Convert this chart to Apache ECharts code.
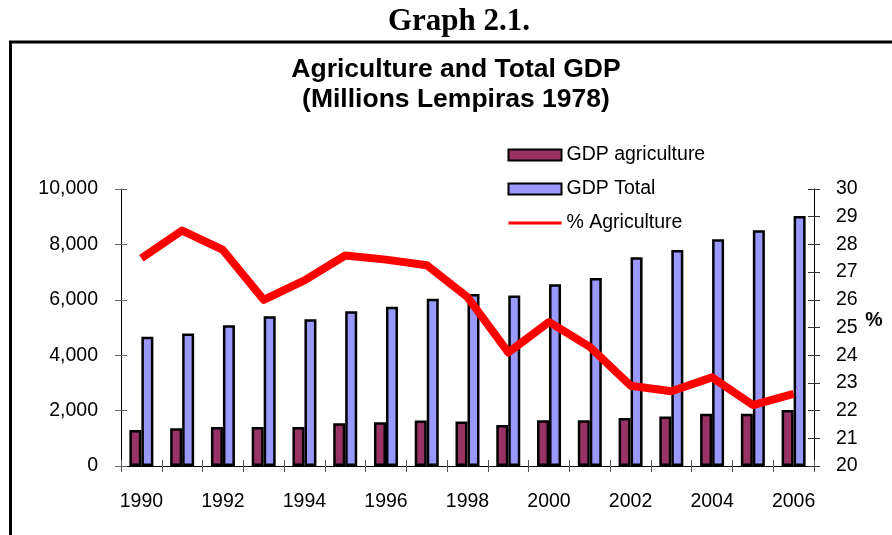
<!DOCTYPE html>
<html>
<head>
<meta charset="utf-8">
<title>Agriculture and Total GDP</title>
<script src="https://cdn.jsdelivr.net/npm/echarts@6/dist/echarts.min.js"></script>
<style>
  html, body { margin: 0; padding: 0; background: #fff; }
  #chart { width: 892px; height: 535px; }
</style>
</head>
<body>
<div id="chart"></div>
<script>
// Honduras GDP, millions of 1978 lempiras
const years = ['1990', '1991', '1992', '1993', '1994', '1995', '1996', '1997', '1998',
               '1999', '2000', '2001', '2002', '2003', '2004', '2005', '2006'];
const gdpAgriculture = [1300, 1360, 1410, 1410, 1410, 1540, 1580, 1640, 1610,
                        1480, 1650, 1650, 1735, 1785, 1890, 1890, 2025];
const gdpTotal = [4670, 4780, 5085, 5410, 5300, 5590, 5745, 6035, 6205,
                  6155, 6565, 6785, 7540, 7795, 8190, 8515, 9025];
const pctAgriculture = [27.5, 28.5, 27.8, 26.0, 26.7, 27.6, 27.45, 27.25, 26.1,
                        24.1, 25.2, 24.3, 22.9, 22.7, 23.2, 22.2, 22.6];

const FONT = '"Liberation Sans", Arial, sans-serif';
const chart = echarts.init(document.getElementById('chart'), null, { renderer: 'canvas' });

const labelStyle = { color: '#000', fontSize: 19.5, fontFamily: FONT };

chart.setOption({
  animation: false,
  backgroundColor: '#fff',
  grid: { left: 121, right: 78, top: 189, bottom: 69, outerBoundsMode: 'none', containLabel: false },
  graphic: [
    { type: 'rect', shape: { x: 10.5, y: 42, width: 900, height: 520 },
      style: { fill: null, stroke: '#000', lineWidth: 3 }, silent: true },
    { type: 'text', x: 459, y: 22,
      style: { text: 'Graph 2.1.', font: 'bold 31px "Liberation Serif", "Times New Roman", serif',
               fill: '#000', align: 'center', verticalAlign: 'middle' } },
    { type: 'text', x: 456, y: 70,
      style: { text: 'Agriculture and Total GDP', font: 'bold 26.5px ' + FONT,
               fill: '#000', align: 'center', verticalAlign: 'middle' } },
    { type: 'text', x: 456, y: 100,
      style: { text: '(Millions Lempiras 1978)', font: 'bold 26.5px ' + FONT,
               fill: '#000', align: 'center', verticalAlign: 'middle' } },
    { type: 'text', x: 874, y: 321,
      style: { text: '%', font: 'bold 19.5px ' + FONT,
               fill: '#000', align: 'center', verticalAlign: 'middle' } }
  ],
  legend: {
    orient: 'vertical',
    left: 507,
    top: 145,
    padding: 0,
    itemWidth: 53,
    itemHeight: 11,
    itemGap: 14,
    textStyle: { color: '#000', fontSize: 19.5, fontFamily: FONT, lineHeight: 19, padding: [0, 0, 0, 0] },
    data: [
      { name: 'GDP agriculture', icon: 'rect', itemStyle: { borderColor: '#000', borderWidth: 2 } },
      { name: 'GDP Total', icon: 'rect', itemStyle: { borderColor: '#000', borderWidth: 2 } },
      { name: '% Agriculture', lineStyle: { width: 3 }, itemStyle: { opacity: 0 } }
    ]
  },
  xAxis: [
    {
      type: 'category', data: years, position: 'bottom', boundaryGap: true,
      axisLine: { lineStyle: { color: '#000', width: 1 } },
      axisTick: { show: true, interval: 0, length: 6, inside: false, lineStyle: { color: '#555' } },
      axisLabel: Object.assign({ interval: 1, margin: 26 }, labelStyle),
      splitLine: { show: false }
    },
    {
      type: 'category', data: years, position: 'bottom', boundaryGap: true,
      axisLine: { show: false },
      axisTick: { show: true, interval: 0, length: 6, inside: true, lineStyle: { color: '#555' } },
      axisLabel: { show: false },
      splitLine: { show: false }
    }
  ],
  yAxis: [
    {
      type: 'value', position: 'left', min: 0, max: 10000, interval: 2000,
      axisLine: { show: true, lineStyle: { color: '#000', width: 1 } },
      axisTick: { show: true, length: 6, inside: false, lineStyle: { color: '#666' } },
      axisLabel: Object.assign({
        margin: 23,
        formatter: v => v.toLocaleString('en-US')
      }, labelStyle),
      splitLine: { show: false }
    },
    {
      type: 'value', position: 'right', min: 20, max: 30, interval: 1,
      axisLine: { show: true, lineStyle: { color: '#000', width: 1 } },
      axisTick: { show: true, length: 6, inside: false, lineStyle: { color: '#333' } },
      axisLabel: Object.assign({ margin: 22 }, labelStyle),
      splitLine: { show: false }
    },
    {
      type: 'value', position: 'left', min: 0, max: 10000, interval: 2000,
      axisLine: { show: false },
      axisTick: { show: true, length: 6, inside: true, lineStyle: { color: '#666' } },
      axisLabel: { show: false },
      splitLine: { show: false }
    },
    {
      type: 'value', position: 'right', min: 20, max: 30, interval: 1,
      axisLine: { show: false },
      axisTick: { show: true, length: 6, inside: true, lineStyle: { color: '#333' } },
      axisLabel: { show: false },
      splitLine: { show: false }
    }
  ],
  series: [
    {
      name: 'GDP agriculture', type: 'bar', xAxisIndex: 0, yAxisIndex: 0,
      data: gdpAgriculture, barWidth: 12, barGap: '0%',
      itemStyle: { color: '#993366', borderColor: '#000', borderWidth: 2.5 }
    },
    {
      name: 'GDP Total', type: 'bar', xAxisIndex: 0, yAxisIndex: 0,
      data: gdpTotal, barWidth: 12, barGap: '0%',
      itemStyle: { color: '#9999ff', borderColor: '#000', borderWidth: 2.5 }
    },
    {
      name: '% Agriculture', type: 'line', xAxisIndex: 0, yAxisIndex: 1,
      data: pctAgriculture, symbol: 'none', showSymbol: false,
      lineStyle: { color: '#ff0000', width: 8, join: 'round' },
      itemStyle: { color: '#ff0000' },
      z: 5
    }
  ]
});
</script>
</body>
</html>
